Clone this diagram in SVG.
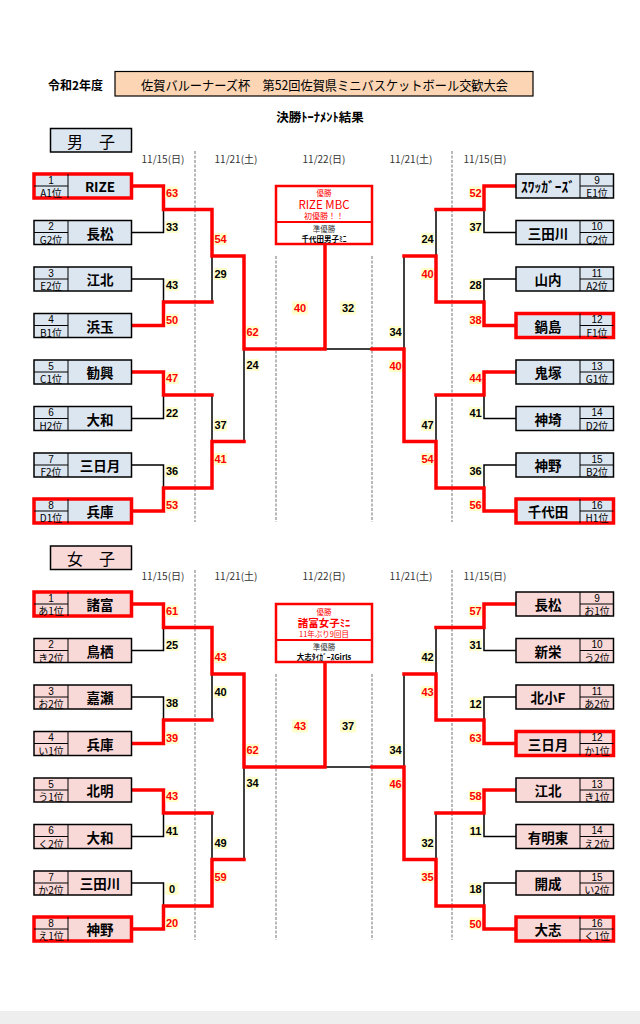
<svg xmlns="http://www.w3.org/2000/svg" width="640" height="1024" viewBox="0 0 640 1024">
<style>
.jp{font-family:"Noto Sans CJK JP","Noto Sans",sans-serif}
.bx{stroke:#000;stroke-width:1.5}
.blue{fill:#dce6f1}
.pink{fill:#f9d9d8}
.win{stroke:#ff0000;stroke-width:3.5}
.in{stroke:#000;stroke-width:1;fill:none}
.sn{font-family:"Liberation Sans",sans-serif;font-size:10px;text-anchor:middle;dominant-baseline:central}
.sp{font-family:"Noto Sans CJK JP",sans-serif;font-size:10px;text-anchor:middle;dominant-baseline:central}
.nm{font-family:"Noto Sans CJK JP","Noto Sans",sans-serif;font-size:13.5px;font-weight:bold;text-anchor:middle;dominant-baseline:central}
.w{stroke:#ff0000;stroke-width:3.5;fill:none;stroke-linejoin:miter;stroke-linecap:square}
.l{stroke:#000;stroke-width:1.5;fill:none}
.dash{stroke:#8a8a8a;stroke-width:1.2;stroke-dasharray:3 1.5}
.sb{fill:#ffffcc}
.sc{font-family:"Liberation Sans",sans-serif;font-size:11px;font-weight:bold;text-anchor:middle;dominant-baseline:central}
.r{fill:#ff0000}
.k{fill:#000}
.dt{font-family:"Noto Sans CJK JP",sans-serif;font-size:10px;fill:#333;text-anchor:middle;dominant-baseline:central}
.cb{fill:#fff;stroke:#ff0000;stroke-width:2.5}
.ct{font-family:"Noto Sans CJK JP",sans-serif;text-anchor:middle;dominant-baseline:central}
</style>
<rect width="640" height="1024" fill="#fff"/>
<rect x="0" y="1011" width="640" height="13" fill="#eeeeee"/>

<!-- header -->
<g id="header">
<text class="jp" x="48" y="84.5" font-size="12" font-weight="bold" dominant-baseline="central">令和2年度</text>
<rect x="115" y="71.5" width="418" height="24.5" fill="#fcd5b4" stroke="#000" stroke-width="1.2"/>
<text class="jp" x="141" y="84" font-size="13" dominant-baseline="central" textLength="367" lengthAdjust="spacingAndGlyphs">佐賀バルーナーズ杯　第52回佐賀県ミニバスケットボール交歓大会</text>
<text class="jp" x="320" y="116" font-size="12.5" font-weight="bold" text-anchor="middle" dominant-baseline="central">決勝ﾄｰﾅﾒﾝﾄ結果</text>
</g>

<!-- section labels -->
<g id="boys-label">
<rect x="50.5" y="128.5" width="81" height="23.5" fill="#dce6f1" stroke="#000" stroke-width="1.5"/>
<text class="jp" x="91" y="140.5" font-size="16" text-anchor="middle" dominant-baseline="central">男　子</text>
</g>
<g id="girls-label">
<rect x="50.5" y="546" width="81" height="23.5" fill="#f9d9d8" stroke="#000" stroke-width="1.5"/>
<text class="jp" x="91" y="558" font-size="16" text-anchor="middle" dominant-baseline="central">女　子</text>
</g>

<!-- dates -->
<g id="dates">
<text class="dt" x="163" y="158.5">11/15(日)</text>
<text class="dt" x="236" y="158.5">11/21(土)</text>
<text class="dt" x="324" y="158.5">11/22(日)</text>
<text class="dt" x="411" y="158.5">11/21(土)</text>
<text class="dt" x="485" y="158.5">11/15(日)</text>
<text class="dt" x="163" y="575.5">11/15(日)</text>
<text class="dt" x="236" y="575.5">11/21(土)</text>
<text class="dt" x="324" y="575.5">11/22(日)</text>
<text class="dt" x="411" y="575.5">11/21(土)</text>
<text class="dt" x="485" y="575.5">11/15(日)</text>
</g>

<!-- dashed day separators -->
<g id="separators">
<line class="dash" x1="195" y1="151" x2="195" y2="522"/>
<line class="dash" x1="452" y1="151" x2="452" y2="522"/>
<line class="dash" x1="276" y1="256" x2="276" y2="522"/>
<line class="dash" x1="372" y1="256" x2="372" y2="522"/>
<line class="dash" x1="195" y1="570" x2="195" y2="940"/>
<line class="dash" x1="452" y1="570" x2="452" y2="940"/>
<line class="dash" x1="276" y1="674" x2="276" y2="940"/>
<line class="dash" x1="372" y1="674" x2="372" y2="940"/>
</g>

<!-- connectors -->
<g id="connectors">
<!-- boys black -->
<path class="l" d="M131.5 232.5H163.5V209.5"/>
<path class="l" d="M131.5 279H163.5V302"/>
<path class="l" d="M212 302V256"/>
<path class="l" d="M131.5 418.5H163.5V395"/>
<path class="l" d="M212 395V441.5"/>
<path class="l" d="M131.5 465H163.5V488"/>
<path class="l" d="M244 441.5V349"/>
<path class="l" d="M516 232.5H484V209.5"/>
<path class="l" d="M436 209.5V256"/>
<path class="l" d="M516 279H484V302"/>
<path class="l" d="M404 256V349"/>
<path class="l" d="M516 418.5H484V395"/>
<path class="l" d="M436 395V441.5"/>
<path class="l" d="M516 465H484V488"/>
<path class="l" d="M325 349H372"/>
<!-- boys red -->
<path class="w" d="M131.5 186H163.5V209.5H212V256H244V349H325V244"/>
<path class="w" d="M131.5 325.5H163.5V302H212"/>
<path class="w" d="M131.5 372H163.5V395H212"/>
<path class="w" d="M131.5 511H163.5V488H212V441.5H244"/>
<path class="w" d="M516 186H484V209.5H436"/>
<path class="w" d="M516 325.5H484V302H436V256H404"/>
<path class="w" d="M516 372H484V395H436"/>
<path class="w" d="M516 511H484V488H436V441.5H404V349H372"/>
<!-- girls black -->
<path class="l" d="M131.5 650.5H163.5V627.5"/>
<path class="l" d="M131.5 697H163.5V720"/>
<path class="l" d="M212 720V674"/>
<path class="l" d="M131.5 836.5H163.5V813"/>
<path class="l" d="M212 813V859.5"/>
<path class="l" d="M131.5 883H163.5V906"/>
<path class="l" d="M244 859.5V767"/>
<path class="l" d="M516 650.5H484V627.5"/>
<path class="l" d="M436 627.5V674"/>
<path class="l" d="M516 697H484V720"/>
<path class="l" d="M404 674V767"/>
<path class="l" d="M516 836.5H484V813"/>
<path class="l" d="M436 813V859.5"/>
<path class="l" d="M516 883H484V906"/>
<path class="l" d="M325 767H372"/>
<!-- girls red -->
<path class="w" d="M131.5 604H163.5V627.5H212V674H244V767H325V662"/>
<path class="w" d="M131.5 743.5H163.5V720H212"/>
<path class="w" d="M131.5 790H163.5V813H212"/>
<path class="w" d="M131.5 929H163.5V906H212V859.5H244"/>
<path class="w" d="M516 604H484V627.5H436"/>
<path class="w" d="M516 743.5H484V720H436V674H404"/>
<path class="w" d="M516 790H484V813H436"/>
<path class="w" d="M516 929H484V906H436V859.5H404V767H372"/>
</g>

<!-- scores -->
<g id="scores">
<!-- boys left -->
<rect class="sb" x="165.5" y="186.5" width="13" height="12"/><text class="sc r" x="172" y="192.5">63</text>
<rect class="sb" x="165.5" y="221" width="13" height="12"/><text class="sc k" x="172" y="227">33</text>
<rect class="sb" x="165.5" y="279" width="13" height="12"/><text class="sc k" x="172" y="285">43</text>
<rect class="sb" x="165.5" y="314" width="13" height="12"/><text class="sc r" x="172" y="320">50</text>
<rect class="sb" x="165.5" y="372" width="13" height="12"/><text class="sc r" x="172" y="378">47</text>
<rect class="sb" x="165.5" y="407" width="13" height="12"/><text class="sc k" x="172" y="413">22</text>
<rect class="sb" x="165.5" y="465" width="13" height="12"/><text class="sc k" x="172" y="471">36</text>
<rect class="sb" x="165.5" y="499" width="13" height="12"/><text class="sc r" x="172" y="505">53</text>
<rect class="sb" x="214" y="233" width="13" height="12"/><text class="sc r" x="220.5" y="239">54</text>
<rect class="sb" x="214" y="268" width="13" height="12"/><text class="sc k" x="220.5" y="274">29</text>
<rect class="sb" x="214" y="419" width="13" height="12"/><text class="sc k" x="220.5" y="425">37</text>
<rect class="sb" x="214" y="453" width="13" height="12"/><text class="sc r" x="220.5" y="459">41</text>
<rect class="sb" x="246" y="326" width="13" height="12"/><text class="sc r" x="252.5" y="332">62</text>
<rect class="sb" x="246" y="359" width="13" height="12"/><text class="sc k" x="252.5" y="365">24</text>
<!-- boys right -->
<rect class="sb" x="469" y="186.5" width="13" height="12"/><text class="sc r" x="475.5" y="192.5">52</text>
<rect class="sb" x="469" y="221" width="13" height="12"/><text class="sc k" x="475.5" y="227">37</text>
<rect class="sb" x="469" y="279" width="13" height="12"/><text class="sc k" x="475.5" y="285">28</text>
<rect class="sb" x="469" y="314" width="13" height="12"/><text class="sc r" x="475.5" y="320">38</text>
<rect class="sb" x="469" y="372" width="13" height="12"/><text class="sc r" x="475.5" y="378">44</text>
<rect class="sb" x="469" y="407" width="13" height="12"/><text class="sc k" x="475.5" y="413">41</text>
<rect class="sb" x="469" y="465" width="13" height="12"/><text class="sc k" x="475.5" y="471">36</text>
<rect class="sb" x="469" y="499" width="13" height="12"/><text class="sc r" x="475.5" y="505">56</text>
<rect class="sb" x="421" y="233" width="13" height="12"/><text class="sc k" x="427.5" y="239">24</text>
<rect class="sb" x="421" y="268" width="13" height="12"/><text class="sc r" x="427.5" y="274">40</text>
<rect class="sb" x="421" y="419" width="13" height="12"/><text class="sc k" x="427.5" y="425">47</text>
<rect class="sb" x="421" y="453" width="13" height="12"/><text class="sc r" x="427.5" y="459">54</text>
<rect class="sb" x="389" y="326" width="13" height="12"/><text class="sc k" x="395.5" y="332">34</text>
<rect class="sb" x="389" y="360" width="13" height="12"/><text class="sc r" x="395.5" y="366">40</text>
<!-- boys final -->
<rect class="sb" x="292" y="301.5" width="16" height="13"/><text class="sc r" x="300" y="308">40</text>
<rect class="sb" x="340" y="301.5" width="16" height="13"/><text class="sc k" x="348" y="308">32</text>
<!-- girls left -->
<rect class="sb" x="165.5" y="605" width="13" height="12"/><text class="sc r" x="172" y="611">61</text>
<rect class="sb" x="165.5" y="639" width="13" height="12"/><text class="sc k" x="172" y="645">25</text>
<rect class="sb" x="165.5" y="697" width="13" height="12"/><text class="sc k" x="172" y="703">38</text>
<rect class="sb" x="165.5" y="732" width="13" height="12"/><text class="sc r" x="172" y="738">39</text>
<rect class="sb" x="165.5" y="790" width="13" height="12"/><text class="sc r" x="172" y="796">43</text>
<rect class="sb" x="165.5" y="825" width="13" height="12"/><text class="sc k" x="172" y="831">41</text>
<rect class="sb" x="165.5" y="883" width="13" height="12"/><text class="sc k" x="172" y="889">0</text>
<rect class="sb" x="165.5" y="917" width="13" height="12"/><text class="sc r" x="172" y="923">20</text>
<rect class="sb" x="214" y="651" width="13" height="12"/><text class="sc r" x="220.5" y="657">43</text>
<rect class="sb" x="214" y="686" width="13" height="12"/><text class="sc k" x="220.5" y="692">40</text>
<rect class="sb" x="214" y="837" width="13" height="12"/><text class="sc k" x="220.5" y="843">49</text>
<rect class="sb" x="214" y="871" width="13" height="12"/><text class="sc r" x="220.5" y="877">59</text>
<rect class="sb" x="246" y="744" width="13" height="12"/><text class="sc r" x="252.5" y="750">62</text>
<rect class="sb" x="246" y="777" width="13" height="12"/><text class="sc k" x="252.5" y="783">34</text>
<!-- girls right -->
<rect class="sb" x="469" y="605" width="13" height="12"/><text class="sc r" x="475.5" y="611">57</text>
<rect class="sb" x="469" y="639" width="13" height="12"/><text class="sc k" x="475.5" y="645">31</text>
<rect class="sb" x="469" y="697.5" width="13" height="12"/><text class="sc k" x="475.5" y="703.5">12</text>
<rect class="sb" x="469" y="732" width="13" height="12"/><text class="sc r" x="475.5" y="738">63</text>
<rect class="sb" x="469" y="790" width="13" height="12"/><text class="sc r" x="475.5" y="796">58</text>
<rect class="sb" x="469" y="825" width="13" height="12"/><text class="sc k" x="475.5" y="831">11</text>
<rect class="sb" x="469" y="883" width="13" height="12"/><text class="sc k" x="475.5" y="889">18</text>
<rect class="sb" x="469" y="917.5" width="13" height="12"/><text class="sc r" x="475.5" y="923.5">50</text>
<rect class="sb" x="421" y="651" width="13" height="12"/><text class="sc k" x="427.5" y="657">42</text>
<rect class="sb" x="421" y="686" width="13" height="12"/><text class="sc r" x="427.5" y="692">43</text>
<rect class="sb" x="421" y="837" width="13" height="12"/><text class="sc k" x="427.5" y="843">32</text>
<rect class="sb" x="421" y="871" width="13" height="12"/><text class="sc r" x="427.5" y="877">35</text>
<rect class="sb" x="389" y="744" width="13" height="12"/><text class="sc k" x="395.5" y="750">34</text>
<rect class="sb" x="389" y="778" width="13" height="12"/><text class="sc r" x="395.5" y="784">46</text>
<!-- girls final -->
<rect class="sb" x="292" y="719.5" width="16" height="13"/><text class="sc r" x="300" y="726">43</text>
<rect class="sb" x="340" y="719.5" width="16" height="13"/><text class="sc k" x="348" y="726">37</text>
</g>

<!-- champion boxes -->
<g id="boys-result">
<rect class="cb" x="276" y="186" width="96" height="58"/>
<line x1="276" y1="222" x2="372" y2="222" stroke="#ff0000" stroke-width="2"/>
<text class="ct" x="324" y="192.5" font-size="7.5" fill="#ff0000">優勝</text>
<text class="ct" x="324" y="204" font-size="11.5" fill="#ff0000">RIZE  MBC</text>
<text class="ct" x="324" y="215.5" font-size="8" fill="#ff0000">初優勝！！</text>
<text class="ct" x="324" y="228.5" font-size="7.5" fill="#333">準優勝</text>
<text class="ct" x="324" y="238.5" font-size="7.5" font-weight="bold" fill="#000">千代田男子ﾐﾆ</text>
</g>
<g id="girls-result">
<rect class="cb" x="276" y="604" width="96" height="58"/>
<line x1="276" y1="640" x2="372" y2="640" stroke="#ff0000" stroke-width="2"/>
<text class="ct" x="324" y="611" font-size="7.5" fill="#ff0000">優勝</text>
<text class="ct" x="324" y="622.5" font-size="10.5" font-weight="bold" fill="#ff0000">諸富女子ﾐﾆ</text>
<text class="ct" x="324" y="633.5" font-size="7.5" fill="#ff0000">11年ぶり9回目</text>
<text class="ct" x="324" y="646" font-size="7.5" fill="#333">準優勝</text>
<text class="ct" x="324" y="656" font-size="7.5" font-weight="bold" fill="#000">大志ﾀｲｶﾞｰｽGirls</text>
</g>

<!-- boys teams left -->
<g id="b01"><rect class="bx win blue" x="34" y="174" width="97.5" height="24"/><path class="in" d="M68 174V198M34 186H68"/><text class="sn" x="51" y="180">1</text><text class="sp" x="51" y="192.5">A1位</text><text class="nm" x="100" y="186">RIZE</text></g>
<g id="b02"><rect class="bx blue" x="34" y="220.5" width="97.5" height="24"/><path class="in" d="M68 220.5V244.5M34 232.5H68"/><text class="sn" x="51" y="226.5">2</text><text class="sp" x="51" y="239">G2位</text><text class="nm" x="100" y="232.5">長松</text></g>
<g id="b03"><rect class="bx blue" x="34" y="267" width="97.5" height="24"/><path class="in" d="M68 267V291M34 279H68"/><text class="sn" x="51" y="273">3</text><text class="sp" x="51" y="285.5">E2位</text><text class="nm" x="100" y="279">江北</text></g>
<g id="b04"><rect class="bx blue" x="34" y="313.5" width="97.5" height="24"/><path class="in" d="M68 313.5V337.5M34 325.5H68"/><text class="sn" x="51" y="319.5">4</text><text class="sp" x="51" y="332">B1位</text><text class="nm" x="100" y="325.5">浜玉</text></g>
<g id="b05"><rect class="bx blue" x="34" y="360" width="97.5" height="24"/><path class="in" d="M68 360V384M34 372H68"/><text class="sn" x="51" y="366">5</text><text class="sp" x="51" y="378.5">C1位</text><text class="nm" x="100" y="372">勧興</text></g>
<g id="b06"><rect class="bx blue" x="34" y="406.5" width="97.5" height="24"/><path class="in" d="M68 406.5V430.5M34 418.5H68"/><text class="sn" x="51" y="412.5">6</text><text class="sp" x="51" y="425">H2位</text><text class="nm" x="100" y="418.5">大和</text></g>
<g id="b07"><rect class="bx blue" x="34" y="453" width="97.5" height="24"/><path class="in" d="M68 453V477M34 465H68"/><text class="sn" x="51" y="459">7</text><text class="sp" x="51" y="471.5">F2位</text><text class="nm" x="100" y="465">三日月</text></g>
<g id="b08"><rect class="bx win blue" x="34" y="499" width="97.5" height="24"/><path class="in" d="M68 499V523M34 511H68"/><text class="sn" x="51" y="505">8</text><text class="sp" x="51" y="517.5">D1位</text><text class="nm" x="100" y="511">兵庫</text></g>
<!-- boys teams right -->
<g id="b09"><rect class="bx blue" x="516" y="174" width="97.5" height="24"/><path class="in" d="M580 174V198M580 186H613.5"/><text class="sn" x="597" y="180">9</text><text class="sp" x="597" y="192.5">E1位</text><text class="nm" x="548" y="186">ｽﾜｯｶﾞｰｽﾞ</text></g>
<g id="b10"><rect class="bx blue" x="516" y="220.5" width="97.5" height="24"/><path class="in" d="M580 220.5V244.5M580 232.5H613.5"/><text class="sn" x="597" y="226.5">10</text><text class="sp" x="597" y="239">C2位</text><text class="nm" x="548" y="232.5">三田川</text></g>
<g id="b11"><rect class="bx blue" x="516" y="267" width="97.5" height="24"/><path class="in" d="M580 267V291M580 279H613.5"/><text class="sn" x="597" y="273">11</text><text class="sp" x="597" y="285.5">A2位</text><text class="nm" x="548" y="279">山内</text></g>
<g id="b12"><rect class="bx win blue" x="516" y="313.5" width="97.5" height="24"/><path class="in" d="M580 313.5V337.5M580 325.5H613.5"/><text class="sn" x="597" y="319.5">12</text><text class="sp" x="597" y="332">F1位</text><text class="nm" x="548" y="325.5">鍋島</text></g>
<g id="b13"><rect class="bx blue" x="516" y="360" width="97.5" height="24"/><path class="in" d="M580 360V384M580 372H613.5"/><text class="sn" x="597" y="366">13</text><text class="sp" x="597" y="378.5">G1位</text><text class="nm" x="548" y="372">鬼塚</text></g>
<g id="b14"><rect class="bx blue" x="516" y="406.5" width="97.5" height="24"/><path class="in" d="M580 406.5V430.5M580 418.5H613.5"/><text class="sn" x="597" y="412.5">14</text><text class="sp" x="597" y="425">D2位</text><text class="nm" x="548" y="418.5">神埼</text></g>
<g id="b15"><rect class="bx blue" x="516" y="453" width="97.5" height="24"/><path class="in" d="M580 453V477M580 465H613.5"/><text class="sn" x="597" y="459">15</text><text class="sp" x="597" y="471.5">B2位</text><text class="nm" x="548" y="465">神野</text></g>
<g id="b16"><rect class="bx win blue" x="516" y="499" width="97.5" height="24"/><path class="in" d="M580 499V523M580 511H613.5"/><text class="sn" x="597" y="505">16</text><text class="sp" x="597" y="517.5">H1位</text><text class="nm" x="548" y="511">千代田</text></g>

<!-- girls teams left -->
<g id="g01"><rect class="bx win pink" x="34" y="592" width="97.5" height="24"/><path class="in" d="M68 592V616M34 604H68"/><text class="sn" x="51" y="598">1</text><text class="sp" x="51" y="610.5">あ1位</text><text class="nm" x="100" y="604">諸富</text></g>
<g id="g02"><rect class="bx pink" x="34" y="638.5" width="97.5" height="24"/><path class="in" d="M68 638.5V662.5M34 650.5H68"/><text class="sn" x="51" y="644.5">2</text><text class="sp" x="51" y="657">き2位</text><text class="nm" x="100" y="650.5">鳥栖</text></g>
<g id="g03"><rect class="bx pink" x="34" y="685" width="97.5" height="24"/><path class="in" d="M68 685V709M34 697H68"/><text class="sn" x="51" y="691">3</text><text class="sp" x="51" y="703.5">お2位</text><text class="nm" x="100" y="697">嘉瀬</text></g>
<g id="g04"><rect class="bx pink" x="34" y="731.5" width="97.5" height="24"/><path class="in" d="M68 731.5V755.5M34 743.5H68"/><text class="sn" x="51" y="737.5">4</text><text class="sp" x="51" y="750">い1位</text><text class="nm" x="100" y="743.5">兵庫</text></g>
<g id="g05"><rect class="bx pink" x="34" y="778" width="97.5" height="24"/><path class="in" d="M68 778V802M34 790H68"/><text class="sn" x="51" y="784">5</text><text class="sp" x="51" y="796.5">う1位</text><text class="nm" x="100" y="790">北明</text></g>
<g id="g06"><rect class="bx pink" x="34" y="824.5" width="97.5" height="24"/><path class="in" d="M68 824.5V848.5M34 836.5H68"/><text class="sn" x="51" y="830.5">6</text><text class="sp" x="51" y="843">く2位</text><text class="nm" x="100" y="836.5">大和</text></g>
<g id="g07"><rect class="bx pink" x="34" y="871" width="97.5" height="24"/><path class="in" d="M68 871V895M34 883H68"/><text class="sn" x="51" y="877">7</text><text class="sp" x="51" y="889.5">か2位</text><text class="nm" x="100" y="883">三田川</text></g>
<g id="g08"><rect class="bx win pink" x="34" y="917" width="97.5" height="24"/><path class="in" d="M68 917V941M34 929H68"/><text class="sn" x="51" y="923">8</text><text class="sp" x="51" y="935.5">え1位</text><text class="nm" x="100" y="929">神野</text></g>
<!-- girls teams right -->
<g id="g09"><rect class="bx pink" x="516" y="592" width="97.5" height="24"/><path class="in" d="M580 592V616M580 604H613.5"/><text class="sn" x="597" y="598">9</text><text class="sp" x="597" y="610.5">お1位</text><text class="nm" x="548" y="604">長松</text></g>
<g id="g10"><rect class="bx pink" x="516" y="638.5" width="97.5" height="24"/><path class="in" d="M580 638.5V662.5M580 650.5H613.5"/><text class="sn" x="597" y="644.5">10</text><text class="sp" x="597" y="657">う2位</text><text class="nm" x="548" y="650.5">新栄</text></g>
<g id="g11"><rect class="bx pink" x="516" y="685" width="97.5" height="24"/><path class="in" d="M580 685V709M580 697H613.5"/><text class="sn" x="597" y="691">11</text><text class="sp" x="597" y="703.5">あ2位</text><text class="nm" x="548" y="697">北小F</text></g>
<g id="g12"><rect class="bx win pink" x="516" y="731.5" width="97.5" height="24"/><path class="in" d="M580 731.5V755.5M580 743.5H613.5"/><text class="sn" x="597" y="737.5">12</text><text class="sp" x="597" y="750">か1位</text><text class="nm" x="548" y="743.5">三日月</text></g>
<g id="g13"><rect class="bx pink" x="516" y="778" width="97.5" height="24"/><path class="in" d="M580 778V802M580 790H613.5"/><text class="sn" x="597" y="784">13</text><text class="sp" x="597" y="796.5">き1位</text><text class="nm" x="548" y="790">江北</text></g>
<g id="g14"><rect class="bx pink" x="516" y="824.5" width="97.5" height="24"/><path class="in" d="M580 824.5V848.5M580 836.5H613.5"/><text class="sn" x="597" y="830.5">14</text><text class="sp" x="597" y="843">え2位</text><text class="nm" x="548" y="836.5">有明東</text></g>
<g id="g15"><rect class="bx pink" x="516" y="871" width="97.5" height="24"/><path class="in" d="M580 871V895M580 883H613.5"/><text class="sn" x="597" y="877">15</text><text class="sp" x="597" y="889.5">い2位</text><text class="nm" x="548" y="883">開成</text></g>
<g id="g16"><rect class="bx win pink" x="516" y="917" width="97.5" height="24"/><path class="in" d="M580 917V941M580 929H613.5"/><text class="sn" x="597" y="923">16</text><text class="sp" x="597" y="935.5">く1位</text><text class="nm" x="548" y="929">大志</text></g>
</svg>
